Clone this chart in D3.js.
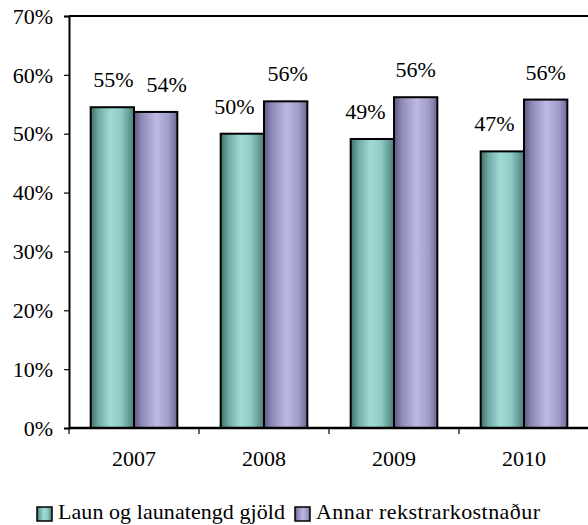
<!DOCTYPE html>
<html>
<head>
<meta charset="utf-8">
<script src="https://cdn.jsdelivr.net/npm/d3@7"></script>
<style>
  html, body { margin: 0; padding: 0; background: #fff; }
  svg { display: block; }
</style>
</head>
<body>
<svg id="chart" width="588" height="525" font-family="Liberation Serif"></svg>
<script>
// ---- data ----
const years = ["2007", "2008", "2009", "2010"];
const seriesNames = ["Laun og launatengd gjöld", "Annar rekstrarkostnaður"];
const launValues = [54.5, 50.0, 49.1, 47.0];
const annarValues = [53.7, 55.5, 56.2, 55.8];
const launLabels = ["55%", "50%", "49%", "47%"];
const annarLabels = ["54%", "56%", "56%", "56%"];
const yTicks = [0, 10, 20, 30, 40, 50, 60, 70];

// ---- layout ----
const plot = { left: 69, right: 589, top: 16, bottom: 428 };
const fontSize = 22;
// small horizontal nudges of the value labels, as in the reference
const launLabelDx = [1, -8, -7, -8];
const annarLabelDx = [11, 2, 0, 0];

const svg = d3.select("#chart");
const defs = svg.append("defs");

function gradient(id, stops) {
  const g = defs.append("linearGradient").attr("id", id)
    .attr("x1", "0").attr("x2", "1").attr("y1", "0").attr("y2", "0");
  stops.forEach(([o, c]) => g.append("stop").attr("offset", o).attr("stop-color", c));
}
gradient("gTeal", [[0, "#3f6e69"], [0.18, "#70aaa5"], [0.45, "#9fdad6"], [0.7, "#8ecbc7"], [1, "#4d7e79"]]);
gradient("gPurple", [[0, "#5b5880"], [0.18, "#8f8bb9"], [0.52, "#bdb9e1"], [0.8, "#a19dca"], [1, "#6c6893"]]);
const fills = ["url(#gTeal)", "url(#gPurple)"];

const x = d3.scaleBand().domain(years).range([plot.left, plot.right]).padding(0);
const xs = d3.scaleBand().domain([0, 1]).range([0, x.bandwidth()]).paddingInner(0).paddingOuter(0.5);
const y = d3.scaleLinear().domain([0, 70]).range([plot.bottom, plot.top]);

// plot border (top)
svg.append("path")
  .attr("d", `M${plot.left},${plot.top}H${plot.right}`)
  .attr("fill", "none").attr("stroke", "#000").attr("stroke-width", 2);

// bars
const seriesData = [launValues, annarValues];
seriesData.forEach((vals, si) => {
  svg.append("g").selectAll("rect").data(years).join("rect")
    .attr("x", d => x(d) + xs(si))
    .attr("y", (d, i) => y(vals[i]))
    .attr("width", xs.bandwidth())
    .attr("height", (d, i) => y(0) - y(vals[i]))
    .attr("fill", fills[si])
    .attr("stroke", "#000").attr("stroke-width", 2);
});

// value labels
const labelSets = [[launLabels, launLabelDx], [annarLabels, annarLabelDx]];
labelSets.forEach(([labels, dxs], si) => {
  const vals = seriesData[si];
  svg.append("g").selectAll("text").data(years).join("text")
    .attr("x", (d, i) => x(d) + xs(si) + xs.bandwidth() / 2 + dxs[i])
    .attr("y", (d, i) => y(vals[i]) - 20)
    .attr("text-anchor", "middle")
    .text((d, i) => labels[i]);
});

// y axis
const yAxis = d3.axisLeft(y).tickValues(yTicks).tickFormat(d => d + "%").tickSize(5).tickPadding(11);
const gy = svg.append("g").attr("transform", `translate(${plot.left},0)`).call(yAxis);
gy.select(".domain").attr("stroke-width", 2);
gy.selectAll(".tick line").attr("stroke-width", 1.2);
gy.selectAll(".tick text").attr("dy", "0.33em");

// x axis
const gx = svg.append("g").attr("transform", `translate(0,${plot.bottom})`)
  .call(d3.axisBottom(x).tickSize(0).tickPadding(22));
gx.select(".domain").attr("stroke-width", 2.5).attr("d", `M${plot.left},0H${plot.right}`);
// category separator ticks
svg.append("g").selectAll("line").data(years.concat(["end"])).join("line")
  .attr("x1", (d, i) => plot.left + i * x.step())
  .attr("x2", (d, i) => plot.left + i * x.step())
  .attr("y1", plot.bottom).attr("y2", plot.bottom + 6)
  .attr("stroke", "#000").attr("stroke-width", 1.2);

// legend
const legendItems = [
  { name: seriesNames[0], fill: fills[0], x: 37, len: 227 },
  { name: seriesNames[1], fill: fills[1], x: 295, len: 224 }
];
const lg = svg.append("g");
legendItems.forEach(it => {
  lg.append("rect").attr("x", it.x).attr("y", 507).attr("width", 15).attr("height", 14)
    .attr("fill", it.fill).attr("stroke", "#000").attr("stroke-width", 1.5);
  lg.append("text").attr("x", it.x + 21).attr("y", 519)
    .attr("textLength", it.len).attr("lengthAdjust", "spacing").text(it.name);
});

svg.selectAll("g").attr("font-family", "Liberation Serif");
svg.selectAll("text")
  .attr("font-family", "Liberation Serif")
  .style("font-family", "Liberation Serif")
  .style("font-size", fontSize + "px")
  .style("fill", "#000");
</script>
</body>
</html>
